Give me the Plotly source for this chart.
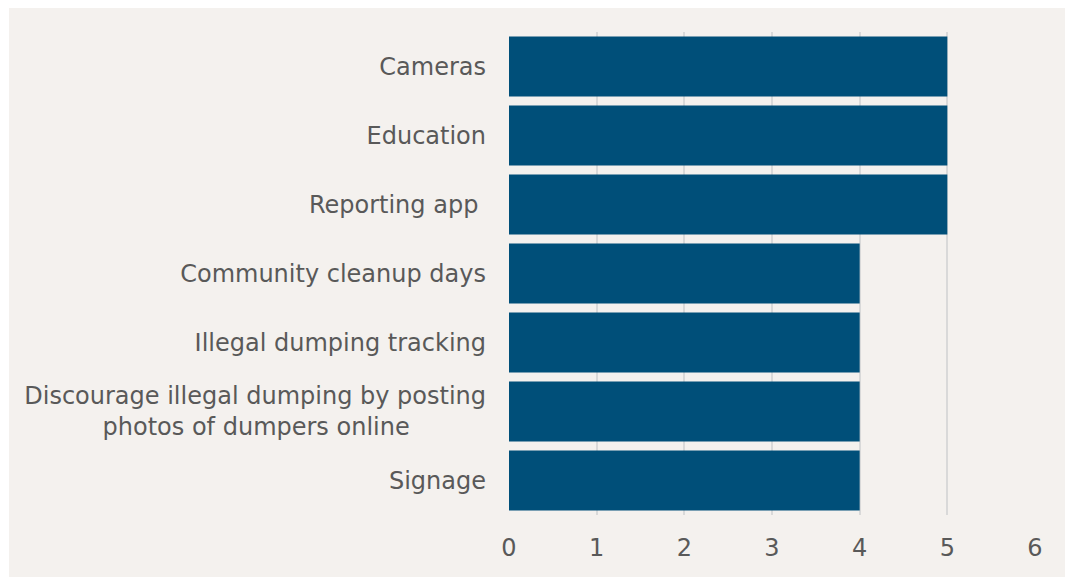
import plotly.graph_objects as go

categories = [
    "Cameras",
    "Education",
    "Reporting app\u00a0",
    "Community cleanup days",
    "Illegal dumping tracking",
    "Discourage illegal dumping by posting<br>photos of dumpers online" + "\u00a0" * 10,
    "Signage",
]
values = [5, 5, 5, 4, 4, 4, 4]
x_ticks = [0, 1, 2, 3, 4, 5, 6]

BG = "#f4f1ee"
BAR = "#004f79"
TXT = "#595959"
GRID = "#d9d9d9"

# page body has an 8px margin, so the figure is sized to fit inside the window
W, H = 1065, 569
L, R, T, B = 501, 38, 24, 62
pw, ph = W - L - R, H - T - B

fig = go.Figure(
    go.Bar(
        x=values,
        y=categories,
        orientation="h",
        marker=dict(color=BAR, line=dict(width=0)),
        hoverinfo="x+y",
    )
)

fig.update_layout(
    width=W,
    height=H,
    margin=dict(l=L, r=R, t=T, b=B, pad=0),
    paper_bgcolor=BG,
    plot_bgcolor=BG,
    bargap=0.13,
    font=dict(family="DejaVu Sans, Verdana, sans-serif", size=24, color=TXT),
    showlegend=False,
    xaxis=dict(
        range=[0, 6],
        tickvals=x_ticks,
        showgrid=True,
        gridcolor=GRID,
        gridwidth=1.5,
        zeroline=False,
        showline=False,
        ticks="",
        ticklabelstandoff=16,
        tickfont=dict(size=24, color=TXT),
        fixedrange=True,
    ),
    yaxis=dict(
        autorange="reversed",
        showgrid=False,
        zeroline=False,
        showline=False,
        ticks="",
        ticklabelstandoff=22,
        tickfont=dict(size=24, color=TXT),
        fixedrange=True,
    ),
    shapes=[
        dict(type="rect", xref="paper", yref="paper",
             x0=-L / pw - 0.01, x1=(1 - L) / pw, y0=-B / ph - 0.1, y1=(H - B) / ph + 0.1,
             fillcolor="white", line=dict(width=0), layer="below"),
    ],
)

fig.write_html("out.html")
